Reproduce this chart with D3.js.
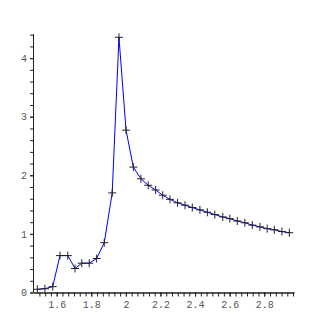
<!DOCTYPE html>
<html>
<head>
<meta charset="utf-8">
<script src="https://cdn.jsdelivr.net/npm/d3@7"></script>
<style>
    body { margin: 0; background: #fff; }
    .tick text { font-family: "Liberation Mono", "DejaVu Sans Mono", monospace; font-size: 10px; fill: #555; }
</style>
</head>
<body>
<div id="chart"></div>
<script>

// data points
const xValues = [1.488, 1.532, 1.577, 1.619, 1.664, 1.706, 1.745, 1.788, 1.831, 1.875,
    1.921, 1.960, 2.001, 2.043, 2.087, 2.129, 2.172, 2.213, 2.255, 2.299,
    2.342, 2.384, 2.428, 2.471, 2.514, 2.560, 2.601, 2.644, 2.688, 2.731,
    2.775, 2.817, 2.858, 2.902, 2.945];
const yValues = [0.055, 0.065, 0.10, 0.63, 0.63, 0.41, 0.50, 0.50, 0.58, 0.85,
    1.70, 4.355, 2.77, 2.14, 1.94, 1.83, 1.75, 1.66, 1.59, 1.53,
    1.49, 1.45, 1.41, 1.37, 1.33, 1.29, 1.26, 1.22, 1.19, 1.15,
    1.12, 1.09, 1.07, 1.04, 1.02];

const xTickLabels = [1.6, 1.8, 2, 2.2, 2.4, 2.6, 2.8];
const yTickLabels = [0, 1, 2, 3, 4];

const xDomain = [1.463, 2.972];
const yDomain = [0, 4.42];

const width = 327;
const height = 327;

const svg = d3.select("#chart")
    .append("svg")
    .attr("width", width)
    .attr("height", height);

const x = d3.scaleLinear()
    .domain(xDomain)
    .range([33, 294]);

const y = d3.scaleLinear()
    .domain(yDomain)
    .range([292.5, 33.5]);

const points = xValues.map((v, i) => ({x: v, y: yValues[i]}));

//minor ticks: x every 1/30, y every 0.2
const xMinor = d3.range(45, 90).map(i => i / 30).filter(v => v >= xDomain[0] && v <= xDomain[1]);
const yMinor = d3.range(0, 23).map(i => i / 5).filter(v => v <= yDomain[1]);

const styleAxis = g => {
    g.select(".domain").attr("stroke", "#222");
    g.selectAll(".tick line").attr("stroke", "#222");
}

// x axis
svg.append("g")
    .attr("transform", `translate(0,${y(0)})`)
    .call(d3.axisBottom(x).tickValues(xMinor).tickSize(4).tickFormat("").tickSizeOuter(0))
    .call(styleAxis);

svg.append("g")
    .attr("transform", `translate(0,${y(0)})`)
    .call(d3.axisBottom(x).tickValues(xTickLabels).tickSize(4).tickPadding(4).tickFormat(d3.format("")).tickSizeOuter(0))
    .call(styleAxis);

// y axis
svg.append("g")
    .attr("transform", `translate(${x(xDomain[0])},0)`)
    .call(d3.axisLeft(y).tickValues(yMinor).tickSize(3).tickFormat("").tickSizeOuter(0))
    .call(styleAxis);

svg.append("g")
    .attr("transform", `translate(${x(xDomain[0])},0)`)
    .call(d3.axisLeft(y).tickValues(yTickLabels).tickSize(3).tickPadding(3).tickFormat(d3.format("")).tickSizeOuter(0))
    .call(styleAxis);

// the line
const line = d3.line()
    .x(d => x(d.x))
    .y(d => y(d.y));

svg.append("path")
    .datum(points)
    .attr("fill", "none")
    .attr("stroke", "#0000ff")
    .attr("stroke-width", 1)
    .attr("d", line);

// cross markers
svg.append("g")
    .selectAll("path")
    .data(points)
    .join("path")
    .attr("transform", d => `translate(${x(d.x)},${y(d.y)})`)
    .attr("d", "M-4,0H4M0,-4V4")
    .attr("stroke", "#222")
    .attr("stroke-width", 1)
    .attr("fill", "none");

</script>
</body>
</html>
